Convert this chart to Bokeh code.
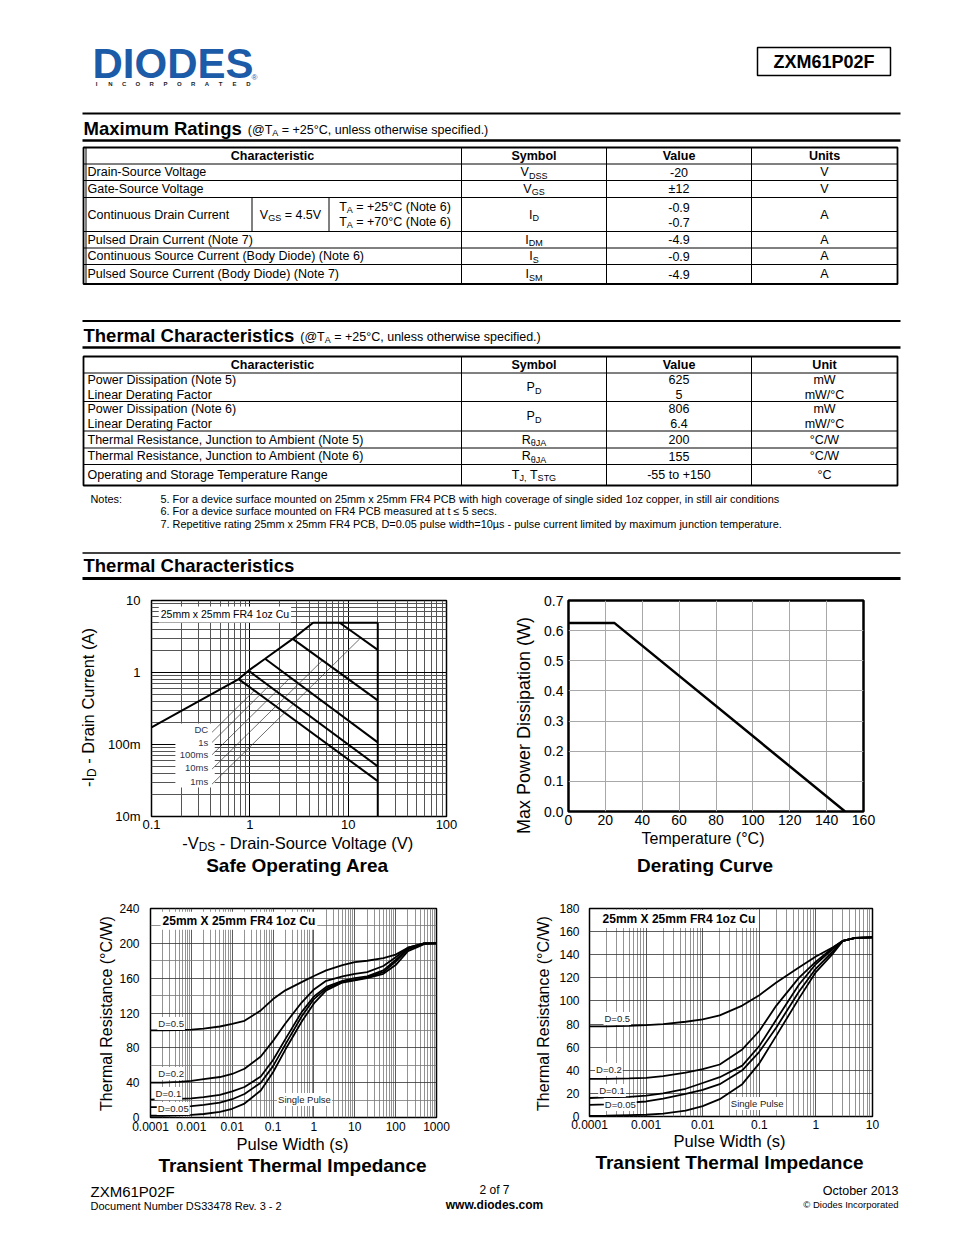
import math
from bokeh.plotting import figure
from bokeh.layouts import column, row
from bokeh.models import Range1d, Label, FixedTicker, BoxAnnotation, PrintfTickFormatter
from bokeh.embed import file_html
from bokeh.resources import INLINE

FONT = "Liberation Sans"
LOGO_BLUE = "#1c5ba8"

# ------------------------------------------------------------------ document text
part_number = "ZXM61P02F"
logo_word = "DIODES"
logo_sub = "INCORPORATED"
cond_text = [("(@T", 0), ("A", 1), (" = +25°C, unless otherwise specified.)", 0)]

mr_header = ["Characteristic", "Symbol", "Value", "Units"]
mr_characteristic = ["Drain-Source Voltage", "Gate-Source Voltage", "Continuous Drain Current",
                     "Pulsed Drain Current (Note 7)", "Continuous Source Current (Body Diode) (Note 6)",
                     "Pulsed Source Current (Body Diode) (Note 7)"]
mr_symbol = [[("V", 0), ("DSS", 1)], [("V", 0), ("GS", 1)], [("I", 0), ("D", 1)],
             [("I", 0), ("DM", 1)], [("I", 0), ("S", 1)], [("I", 0), ("SM", 1)]]
mr_value = [["-20"], ["±12"], ["-0.9", "-0.7"], ["-4.9"], ["-0.9"], ["-4.9"]]
mr_units = ["V", "V", "A", "A", "A", "A"]
mr_vgs = [("V", 0), ("GS", 1), (" = 4.5V", 0)]
mr_ta = [[("T", 0), ("A", 1), (" = +25°C (Note 6)", 0)], [("T", 0), ("A", 1), (" = +70°C (Note 6)", 0)]]

th_header = ["Characteristic", "Symbol", "Value", "Unit"]
th_characteristic = [["Power Dissipation (Note 5)", "Linear Derating Factor"],
                     ["Power Dissipation (Note 6)", "Linear Derating Factor"],
                     ["Thermal Resistance, Junction to Ambient (Note 5)"],
                     ["Thermal Resistance, Junction to Ambient (Note 6)"],
                     ["Operating and Storage Temperature Range"]]
th_symbol = [[("P", 0), ("D", 1)], [("P", 0), ("D", 1)], [("R", 0), ("θJA", 1)], [("R", 0), ("θJA", 1)],
             [("T", 0), ("J,", 1), (" T", 0), ("STG", 1)]]
th_value = [["625", "5"], ["806", "6.4"], ["200"], ["155"], ["-55 to +150"]]
th_unit = [["mW", "mW/°C"], ["mW", "mW/°C"], ["°C/W"], ["°C/W"], ["°C"]]

notes_label = "Notes:"
notes = ["5. For a device surface mounted on 25mm x 25mm FR4 PCB with high coverage of single sided 1oz copper, in still air conditions",
         "6. For a device surface mounted on FR4 PCB measured at t ≤ 5 secs.",
         "7. Repetitive rating 25mm x 25mm FR4 PCB, D=0.05 pulse width=10µs - pulse current limited by maximum junction temperature."]

footer_left = ["ZXM61P02F", "Document Number DS33478 Rev. 3 - 2"]
footer_mid = ["2 of 7", "www.diodes.com"]
footer_right = ["October 2013", "© Diodes Incorporated"]

# ------------------------------------------------------------------ chart data
# Safe operating area (V, A)
soa_rds_v = [0.1, 0.77, 0.97, 1.43, 2.73, 4.4, 20]
soa_rds_i = [0.173, 0.81, 1.06, 1.55, 2.93, 4.9, 4.9]
soa_vmax_v = [20, 20]
soa_vmax_i = [4.9, 0.01]
soa_names = ["DC", "1s", "100ms", "10ms", "1ms"]
soa_pulse_v = [[0.77, 20], [0.97, 20], [1.43, 20], [2.73, 20], [8.2, 20]]
soa_pulse_i = [[0.81, 0.031], [1.06, 0.0497], [1.55, 0.107], [2.93, 0.41], [4.9, 2.06]]
soa_leader_v = [[0.413, 1.11], [0.413, 1.57], [0.413, 2.58], [0.413, 5.44], [0.413, 13.1]]
soa_leader_i = [[0.148, 0.561], [0.107, 0.657], [0.0721, 0.849], [0.0456, 1.46], [0.0282, 2.93]]
soa_label_v = 0.377
soa_label_i = [0.161, 0.107, 0.0727, 0.048, 0.0306]
soa_box_text = "25mm x 25mm FR4 1oz Cu"

# Derating curve
der_temp = [0, 25, 150]
der_power = [0.625, 0.625, 0.0]

# Transient thermal impedance, 25mm x 25mm (Rth = 200)
tti1_tp = [1e-4, 2e-4, 5e-4, 1e-3, 2e-3, 5e-3, 1e-2, 2e-2, 5e-2, 0.1, 0.2, 0.5, 1, 2, 5, 10, 20, 50, 100, 200, 500, 1000]
tti1_d05 = [100, 100, 100.5, 101, 102, 104.5, 107.5, 111, 123, 136, 146, 155.5, 162.5, 169, 175, 178.5, 180, 183, 187, 195, 200, 200]
tti1_d02 = [40, 40, 41, 42, 44, 46.5, 50, 56, 70, 88, 108, 132, 147, 157, 162, 165, 167, 174, 184, 195, 200, 200]
tti1_d01 = [20.5, 21, 21.5, 22, 23.5, 26, 30, 35, 47, 66, 90, 121, 139, 150, 157, 160, 162, 169, 181, 194, 200, 200]
tti1_d005 = [12, 12, 12.5, 13, 14.5, 17, 21, 27, 40, 59, 84, 116, 136, 148, 156, 158, 161, 167, 179, 193, 200, 200]
tti1_sp = [2, 2, 2.5, 3, 4, 6.5, 10, 16, 31, 52, 78, 110, 131, 146, 155, 157.5, 160, 165, 175, 191, 199, 200]
tti1_label_text = ["D=0.5", "D=0.2", "D=0.1", "D=0.05", "Single Pulse"]
tti1_label_t = [3.2e-4, 3.2e-4, 2.74e-4, 3.6e-4, 0.586]
tti1_label_r = [108, 50.5, 27.6, 10.3, 20.7]

# Transient thermal impedance (Rth = 155)
tti2_tp = [1e-4, 2e-4, 5e-4, 1e-3, 2e-3, 5e-3, 1e-2, 2e-2, 5e-2, 0.1, 0.2, 0.5, 1, 2, 3, 5, 10]
tti2_d05 = [78, 78, 78.5, 79, 80, 82, 84, 87.5, 96, 105, 116, 129, 138.5, 146.5, 152, 154.5, 155]
tti2_d02 = [32.5, 32.5, 33, 33.5, 35, 38, 41, 45, 58, 74, 96, 120, 134, 146, 152, 154.5, 155]
tti2_d01 = [16, 16.5, 17, 18, 20, 24, 29, 34, 44, 61, 84, 114, 132, 145, 152, 154.5, 155]
tti2_d005 = [10, 10.5, 12, 13, 15.5, 19.5, 23, 28, 40, 56, 77, 108, 128, 143, 152, 154.5, 155]
tti2_sp = [0.6, 0.8, 1.2, 1.5, 2.5, 5, 9, 15, 28, 46, 70, 102, 125, 141, 152, 154.5, 155]
tti2_label_text = ["D=0.5", "D=0.2", "D=0.1", "D=0.05", "Single Pulse"]
tti2_label_t = [3.1e-4, 2.2e-4, 2.5e-4, 3.5e-4, 0.092]
tti2_label_r = [84.8, 40.7, 22.5, 10.4, 11.2]
tti_box_text = "25mm X 25mm FR4 1oz Cu"

# ------------------------------------------------------------------ text metrics (Arial/Liberation)
REG_W = {' ': 278, '(': 333, ')': 333, ',': 278, '-': 333, '.': 278, '/': 278, ':': 278, '=': 584, '+': 584,
         '@': 1015, '°': 400, '±': 584, 'θ': 556, 'µ': 556, '≤': 549, '©': 737,
         'A': 667, 'B': 667, 'C': 722, 'D': 722, 'E': 667, 'F': 611, 'G': 778, 'H': 722, 'I': 278, 'J': 500,
         'K': 667, 'L': 556, 'M': 833, 'N': 722, 'O': 778, 'P': 667, 'Q': 778, 'R': 722, 'S': 667, 'T': 611,
         'U': 722, 'V': 667, 'W': 944, 'X': 667, 'Y': 667, 'Z': 611,
         'a': 556, 'b': 556, 'c': 500, 'd': 556, 'e': 556, 'f': 278, 'g': 556, 'h': 556, 'i': 222, 'j': 222,
         'k': 500, 'l': 222, 'm': 833, 'n': 556, 'o': 556, 'p': 556, 'q': 556, 'r': 333, 's': 500, 't': 278,
         'u': 556, 'v': 500, 'w': 722, 'x': 500, 'y': 500, 'z': 500}
BOLD_W = dict(REG_W)
BOLD_W.update({':': 333, '@': 975, 'A': 722, 'B': 722, 'J': 556, 'K': 722, 'L': 611,
               'b': 611, 'c': 556, 'd': 611, 'f': 333, 'g': 611, 'h': 611, 'i': 278, 'j': 278, 'k': 556,
               'l': 278, 'm': 889, 'n': 611, 'o': 611, 'p': 611, 'q': 611, 'r': 389, 's': 556, 't': 333,
               'u': 611, 'v': 556, 'w': 778, 'x': 556, 'y': 556})


def tw(s, size, bold=False):
    t = BOLD_W if bold else REG_W
    return sum(t.get(c, 556) for c in s) * size / 1000.0


# ------------------------------------------------------------------ page helpers (page pixel coordinates)
def page_fig(x0, x1, y0, y1, bl=0, br=0):
    # the frame covers page x from x0+bl to x1-br, so the range maps 1:1 onto page pixels
    p = figure(width=int(x1 - x0), height=int(y1 - y0), x_range=Range1d(x0 + bl, x1 - br),
               y_range=Range1d(y1, y0), x_axis_type=None, y_axis_type=None, output_backend="svg",
               toolbar_location=None, title=None, min_border_left=bl, min_border_right=br,
               min_border_top=0, min_border_bottom=0)
    p.outline_line_color = None
    return p


def ptxt(p, x, y, s, size, bold=False, align="left", color="black", angle=0.0):
    p.add_layout(Label(x=x, y=y, text=s, text_font=FONT, text_font_size=f"{size}px",
                       text_font_style="bold" if bold else "normal", text_align=align,
                       text_baseline="middle", text_color=color, angle=angle))


def pseg(p, x, y, segs, size, bold=False, align="left", color="black", rot=False):
    sub = round(size * 0.72, 1)
    ws = [tw(s, sub if b else size, bold) for s, b in segs]
    tot = sum(ws)
    pos = {"left": 0, "center": -tot / 2, "right": -tot}[align]
    for (s, b), w in zip(segs, ws):
        fs = sub if b else size
        off = size * 0.27 if b else 0
        lead = len(s) - len(s.lstrip(" "))
        adv = tw(" " * lead, fs, bold)
        if rot:
            ptxt(p, x + off, y - (pos + adv), s.strip(" "), fs, bold, "left", color, math.pi / 2)
        else:
            ptxt(p, x + pos + adv, y + off, s.strip(" "), fs, bold, "left", color)
        pos += w


def hline(p, x0, x1, y, w=1.0):
    p.segment(x0=[x0], y0=[y], x1=[x1], y1=[y], line_color="black", line_width=w)


def vline(p, x, y0, y1, w=1.0):
    p.segment(x0=[x], y0=[y0], x1=[x], y1=[y1], line_color="black", line_width=w)


# ------------------------------------------------------------------ top of page
top = page_fig(0, 946, 0, 590)
ptxt(top, 92, 62.5, logo_word, 42, bold=True, color=LOGO_BLUE)
for i, ch in enumerate(logo_sub):
    ptxt(top, 96 + i * 13.8, 83.5, ch, 6, bold=True, align="center", color="#222222")
ptxt(top, 251, 77, "®", 8, color=LOGO_BLUE)

top.quad(left=[757], right=[890], top=[47], bottom=[75], fill_color=None, line_color="black", line_width=1.5)
ptxt(top, 823.5, 61.5, part_number, 18, bold=True, align="center")

FS = 12.5
cols = [83, 461, 606, 751, 897]
ccen = [(cols[i] + cols[i + 1]) / 2 for i in range(4)]

# Maximum ratings
hline(top, 82, 900, 113, 2)
ptxt(top, 83, 128, "Maximum Ratings", 18.5, bold=True)
pseg(top, 83 + tw("Maximum Ratings", 18.5, True) + 6, 129.3, cond_text, FS)
hline(top, 82, 900, 140, 2.5)

mr_rows = [147, 163.5, 180, 197, 231, 247.5, 264, 283.5]
top.quad(left=[cols[0]], right=[cols[-1]], top=[mr_rows[0]], bottom=[mr_rows[-1]], fill_color=None,
         line_color="black", line_width=1.8)
vline(top, 85.5, mr_rows[0], mr_rows[-1], 1)
for y in mr_rows[1:-1]:
    hline(top, cols[0], cols[-1], y, 1)
for x in cols[1:-1]:
    vline(top, x, mr_rows[0], mr_rows[-1], 1)
vline(top, 251.5, mr_rows[3], mr_rows[4], 1)
vline(top, 328.5, mr_rows[3], mr_rows[4], 1)
cy = (mr_rows[0] + mr_rows[1]) / 2
for c, h in zip(ccen, mr_header):
    ptxt(top, c, cy, h, FS, bold=True, align="center")
for i in range(len(mr_characteristic)):
    yc = (mr_rows[i + 1] + mr_rows[i + 2]) / 2
    ptxt(top, 87, yc, mr_characteristic[i], FS)
    pseg(top, ccen[1], yc, mr_symbol[i], FS, align="center")
    vals = mr_value[i]
    offs = [0] if len(vals) == 1 else [-7.5, 7.5]
    for v, o in zip(vals, offs):
        ptxt(top, ccen[2], yc + o, v, FS, align="center")
    ptxt(top, ccen[3], yc, mr_units[i], FS, align="center")
    if i == 2:
        pseg(top, 290, yc, mr_vgs, FS, align="center")
        for seg, o in zip(mr_ta, [-7.5, 7.5]):
            pseg(top, 394.5, yc + o, seg, FS, align="center")

# Thermal characteristics table
hline(top, 82, 900, 320.5, 2)
ptxt(top, 83, 335, "Thermal Characteristics", 18.5, bold=True)
pseg(top, 83 + tw("Thermal Characteristics", 18.5, True) + 6, 336.3, cond_text, FS)
hline(top, 82, 900, 347, 2.5)

th_rows = [356, 372.5, 401, 430.5, 447.5, 464, 485]
top.quad(left=[cols[0]], right=[cols[-1]], top=[th_rows[0]], bottom=[th_rows[-1]], fill_color=None,
         line_color="black", line_width=1.8)
for y in th_rows[1:-1]:
    hline(top, cols[0], cols[-1], y, 1)
for x in cols[1:-1]:
    vline(top, x, th_rows[0], th_rows[-1], 1)
cy = (th_rows[0] + th_rows[1]) / 2
for c, h in zip(ccen, th_header):
    ptxt(top, c, cy, h, FS, bold=True, align="center")
for i in range(len(th_characteristic)):
    yc = (th_rows[i + 1] + th_rows[i + 2]) / 2
    n = len(th_characteristic[i])
    offs = [0] if n == 1 else [-7.5, 7.5]
    for s, o in zip(th_characteristic[i], offs):
        ptxt(top, 87, yc + o, s, FS)
    pseg(top, ccen[1], yc, th_symbol[i], FS, align="center")
    for s, o in zip(th_value[i], offs):
        ptxt(top, ccen[2], yc + o, s, FS, align="center")
    for s, o in zip(th_unit[i], offs):
        ptxt(top, ccen[3], yc + o, s, FS, align="center")

ptxt(top, 90, 498, notes_label, 10.9)
for k, s in enumerate(notes):
    ptxt(top, 160, 498 + k * 12.5, s, 10.9)

hline(top, 82, 900, 552.5, 1.5)
ptxt(top, 83, 565, "Thermal Characteristics", 18.5, bold=True)
hline(top, 82, 900, 578, 3)


# ------------------------------------------------------------------ chart helpers
def style_axes(p, xsize, ysize, xstand, ystand):
    for ax, size, st in ((p.xaxis[0], xsize, xstand), (p.yaxis[0], ysize, ystand)):
        ax.axis_line_color = None
        ax.major_tick_line_color = None
        ax.minor_tick_line_color = None
        ax.major_tick_out = 0
        ax.major_tick_in = 0
        ax.minor_tick_out = 0
        ax.minor_tick_in = 0
        ax.major_label_text_font = FONT
        ax.major_label_text_font_size = f"{size}px"
        ax.major_label_standoff = st
        ax.major_label_text_color = "black"


def log_minor(e0, e1):
    return [m * 10.0 ** e for e in range(e0, e1) for m in range(2, 10)]


def dlabel(p, x, y, text, size, bold=False, align="center", color="black", bg=None, pad=1):
    lab = Label(x=x, y=y, text=text, text_font=FONT, text_font_size=f"{size}px",
                text_font_style="bold" if bold else "normal", text_align=align,
                text_baseline="middle", text_color=color)
    if bg:
        lab.background_fill_color = bg
        lab.background_fill_alpha = 1.0
        lab.padding = pad
    p.add_layout(lab)


# ------------------------------------------------------------------ Safe operating area
soa = figure(width=373, height=244, x_axis_type="log", y_axis_type="log",
             x_range=Range1d(0.1, 100), y_range=Range1d(0.01, 10), output_backend="svg",
             toolbar_location=None, title=None, min_border_left=45, min_border_right=31,
             min_border_top=10, min_border_bottom=18)
soa.outline_line_color = "black"
soa.outline_line_width = 1.5
soa.xaxis.ticker = FixedTicker(ticks=[0.1, 1, 10, 100], minor_ticks=log_minor(-1, 2))
soa.yaxis.ticker = FixedTicker(ticks=[0.01, 0.1, 1, 10], minor_ticks=log_minor(-2, 1))
soa.xaxis.major_label_overrides = {0.1: "0.1", 1: "1", 10: "10", 100: "100"}
soa.yaxis.major_label_overrides = {0.01: "10m", 0.1: "100m", 1: "1", 10: "10"}
style_axes(soa, 13, 13, 3, 11)
soa.grid.grid_line_color = "black"
soa.grid.grid_line_width = 1
soa.grid.minor_grid_line_color = "#555555"
soa.grid.minor_grid_line_width = 1
soa.add_layout(BoxAnnotation(left=0.175, right=0.44, bottom=0.0253, top=0.196, fill_color="white",
                             fill_alpha=1.0, line_color=None, level="underlay"))
soa.line(soa_rds_v, soa_rds_i, line_color="black", line_width=2)
soa.line(soa_vmax_v, soa_vmax_i, line_color="black", line_width=2)
for v, i in zip(soa_pulse_v, soa_pulse_i):
    soa.line(v, i, line_color="black", line_width=2)
for v, i in zip(soa_leader_v, soa_leader_i):
    soa.line(v, i, line_color="#333333", line_width=0.7)
for name, iy in zip(soa_names, soa_label_i):
    dlabel(soa, soa_label_v, iy, name, 9.5, align="right", color="#2a3550")
dlabel(soa, 0.558, 6.4, soa_box_text, 10.5, bg="white", pad=2)

soa_left = page_fig(0, 104, 590, 885)
pseg(soa_left, 87, 707, [("-I", 0), ("D", 1), (" - Drain Current (A)", 0)], 16.5, align="center", rot=True)
soa_below = page_fig(104, 477, 834, 885, bl=45, br=31)
pseg(soa_below, 296, 842, [("-V", 0), ("DS", 1), (" - Drain-Source Voltage (V)", 0)], 16.5, align="center")
ptxt(soa_below, 296, 865, "Safe Operating Area", 19, bold=True, align="center")

# ------------------------------------------------------------------ Derating curve
der = figure(width=405, height=241, x_range=Range1d(0, 160), y_range=Range1d(0, 0.7),
             output_backend="svg", toolbar_location=None, title=None, min_border_left=26,
             min_border_right=83, min_border_top=10, min_border_bottom=20)
der.outline_line_color = "black"
der.outline_line_width = 2.5
der.xaxis.ticker = FixedTicker(ticks=list(range(0, 161, 20)))
der.yaxis.ticker = FixedTicker(ticks=[round(k * 0.1, 1) for k in range(8)])
der.yaxis.formatter = PrintfTickFormatter(format="%.1f")
style_axes(der, 14, 14, 3, 5)
der.grid.grid_line_color = "#a8a8a8"
der.grid.grid_line_width = 1
der.line(der_temp, der_power, line_color="black", line_width=2.5)

der_left = page_fig(477, 541, 590, 885)
ptxt(der_left, 523, 725, "Max Power Dissipation (W)", 18, align="center", angle=math.pi / 2)
der_below = page_fig(541, 946, 831, 885, bl=26, br=83)
ptxt(der_below, 702, 838, "Temperature (°C)", 16, align="center")
ptxt(der_below, 704, 865, "Derating Curve", 19, bold=True, align="center")


# ------------------------------------------------------------------ Transient thermal impedance
def tti_chart(w, h, bl, br, bb, xmax_exp, ymax):
    p = figure(width=w, height=h, x_axis_type="log", x_range=Range1d(1e-4, 10.0 ** xmax_exp),
               y_range=Range1d(0, ymax), output_backend="svg", toolbar_location=None, title=None,
               min_border_left=bl, min_border_right=br, min_border_top=23, min_border_bottom=bb)
    p.outline_line_color = "black"
    p.outline_line_width = 1.5
    xt = [10.0 ** e for e in range(-4, xmax_exp + 1)]
    p.xaxis.ticker = FixedTicker(ticks=xt, minor_ticks=log_minor(-4, xmax_exp))
    p.xaxis.major_label_overrides = {t: (f"{t:.4f}".rstrip("0").rstrip(".") if t < 1 else str(int(round(t)))) for t in xt}
    p.grid.grid_line_color = "#333333"
    p.grid.grid_line_width = 0.8
    p.grid.minor_grid_line_color = "#777777"
    p.grid.minor_grid_line_width = 0.8
    return p


tti1 = tti_chart(361, 250, 32, 41, 18, 3, 240)
tti1.yaxis.ticker = FixedTicker(ticks=list(range(0, 241, 40)), minor_ticks=list(range(20, 240, 40)))
style_axes(tti1, 12, 12, 4, 11)
for ys in (tti1_d05, tti1_d02, tti1_d01, tti1_d005, tti1_sp):
    tti1.line(tti1_tp, ys, line_color="black", line_width=1.8)
for t, r, s in zip(tti1_label_t, tti1_label_r, tti1_label_text):
    dlabel(tti1, t, r, s, 9.5, color="#222222", bg="white", pad=1)
dlabel(tti1, 0.0146, 226, tti_box_text, 12, bold=True, bg="white", pad=2)
tti1_left = page_fig(0, 116, 885, 1180)
ptxt(tti1_left, 106, 1013, "Thermal Resistance (°C/W)", 16, align="center", angle=math.pi / 2)
tti1_below = page_fig(116, 477, 1135, 1180, bl=32, br=41)
ptxt(tti1_below, 291, 1143, "Pulse Width (s)", 16.5, align="center")
ptxt(tti1_below, 291, 1165, "Transient Thermal Impedance", 19, bold=True, align="center")

tti2 = tti_chart(390, 248, 31, 74, 17, 1, 180)
tti2.yaxis.ticker = FixedTicker(ticks=list(range(0, 181, 20)))
style_axes(tti2, 12, 12, 3, 10)
for ys in (tti2_d05, tti2_d02, tti2_d01, tti2_d005, tti2_sp):
    tti2.line(tti2_tp, ys, line_color="black", line_width=1.8)
for t, r, s in zip(tti2_label_t, tti2_label_r, tti2_label_text):
    dlabel(tti2, t, r, s, 9.5, color="#222222", bg="white", pad=1)
dlabel(tti2, 0.0038, 171, tti_box_text, 12, bold=True, bg="white", pad=2)
tti2_left = page_fig(477, 556, 885, 1180)
ptxt(tti2_left, 543, 1013, "Thermal Resistance (°C/W)", 16, align="center", angle=math.pi / 2)
tti2_below = page_fig(556, 946, 1133, 1180, bl=31, br=74)
ptxt(tti2_below, 728, 1140, "Pulse Width (s)", 16.5, align="center")
ptxt(tti2_below, 728, 1162, "Transient Thermal Impedance", 19, bold=True, align="center")

# ------------------------------------------------------------------ footer
foot = page_fig(0, 946, 1180, 1227)
ptxt(foot, 90, 1191, footer_left[0], 15)
ptxt(foot, 90, 1205, footer_left[1], 11)
ptxt(foot, 494, 1189, footer_mid[0], 12, align="center")
ptxt(foot, 494, 1204, footer_mid[1], 12, bold=True, align="center")
ptxt(foot, 898, 1190, footer_right[0], 12.5, align="right")
ptxt(foot, 898, 1204, footer_right[1], 9.5, align="right")

layout = column(
    top,
    row(soa_left, column(soa, soa_below), der_left, column(der, der_below)),
    row(tti1_left, column(tti1, tti1_below), tti2_left, column(tti2, tti2_below)),
    foot,
)
open("out.html", "w").write(file_html(layout, INLINE))
